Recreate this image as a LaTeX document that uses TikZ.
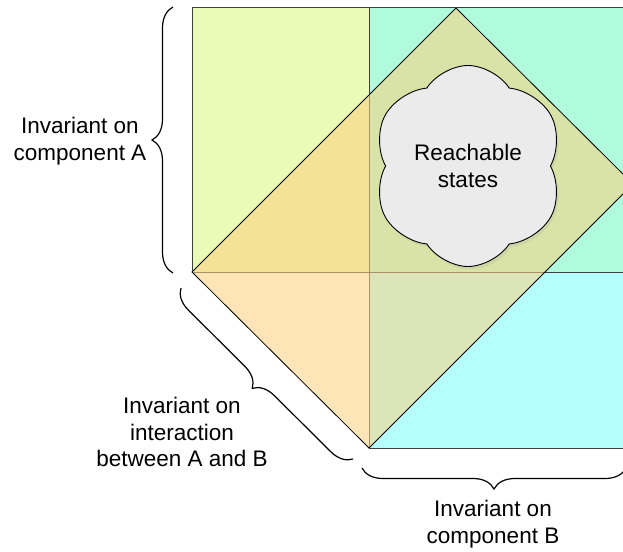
\documentclass[tikz,border=0pt]{standalone}
\usepackage{fontspec}
\setmainfont{Liberation Sans}
\usetikzlibrary{decorations.pathreplacing,shapes.symbols,shadows}
\definecolor{acol}{HTML}{E8FBB7}
\definecolor{abcol}{HTML}{AFFBDC}
\definecolor{bcol}{HTML}{B5FFFF}
\definecolor{dcol}{RGB}{251,209,128}
\definecolor{cloudcol}{HTML}{EBEBEB}
\begin{document}
\begin{tikzpicture}[x=1pt,y=-1pt,
  lbl/.style={align=center,font=\fontsize{22.5}{26.5}\selectfont},
  bracestyle/.style={decorate,decoration={brace,amplitude=21pt},line width=1.2pt},
  edge/.style={draw=black!75,line width=0.8pt}]
\useasboundingbox (0,0) rectangle (623,551);
\coordinate (atl) at (192,7);
\coordinate (abl) at (192,272);
\coordinate (btl) at (369,7);
\coordinate (bbl) at (369,448);
\coordinate (far) at (640,272);
\coordinate (farb) at (640,448);
\coordinate (dtop) at (456,8);
\coordinate (dright) at (633,184);
\begin{scope}
\clip (0,0) rectangle (623,551);
\fill[acol] (atl) rectangle (369,272);
\fill[abcol] (btl) rectangle (far);
\fill[bcol] (369,272) rectangle (farb);
\draw[edge] (atl) rectangle (far);
\draw[edge] (btl) rectangle (farb);
\filldraw[fill=dcol,fill opacity=0.56,draw=black,line width=0.8pt]
  (abl) -- (dtop) -- (dright) -- (bbl) -- cycle;
\end{scope}
\node[cloud, cloud puffs=6, cloud puff arc=115, cloud ignores aspect, draw=black, line width=0.9pt,
  fill=cloudcol, minimum width=192pt, minimum height=201pt, inner sep=0pt,
  shape border rotate=10,
  drop shadow={opacity=0.12, shadow xshift=2pt, shadow yshift=-3pt},
  lbl] (cloud) at (468,166) {Reachable\\states};
% braces
\coordinate (ba1) at (173,273);
\coordinate (ba2) at (173,7);
\draw[bracestyle] (ba1) -- (ba2);
\coordinate (bi1) at (353,459);
\coordinate (bi2) at (181,288);
\draw[bracestyle] (bi1) -- (bi2);
\coordinate (bb1) at (626,468);
\coordinate (bb2) at (362,468);
\draw[bracestyle] (bb1) -- (bb2);
% labels
\node[lbl] (la) at (80,141) {Invariant on\\component A};
\node[lbl] (li) at (182,432) {Invariant on\\interaction\\between A and B};
\node[lbl] (lb) at (493,524) {Invariant on\\component B};
\end{tikzpicture}
\end{document}
